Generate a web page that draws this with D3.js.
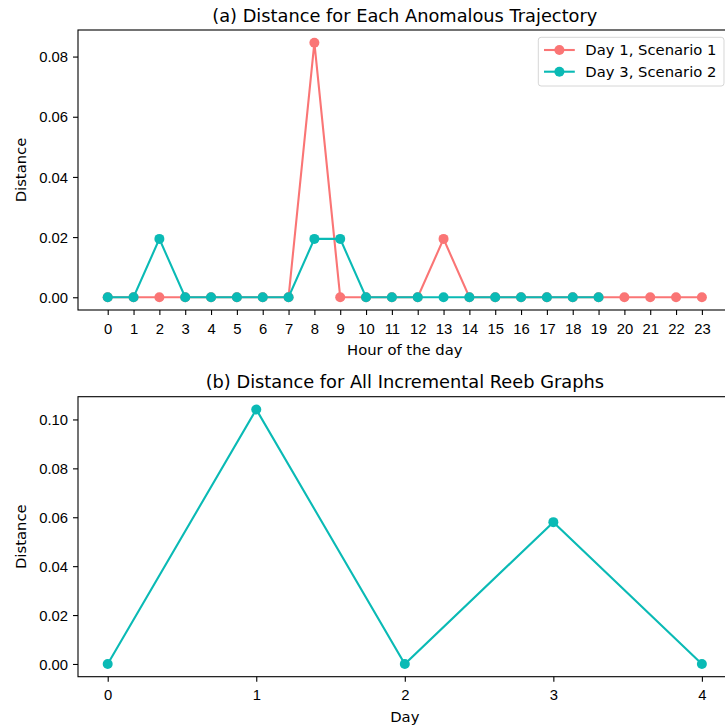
<!DOCTYPE html>
<html>
<head>
<meta charset="utf-8">
<script src="https://cdn.jsdelivr.net/npm/d3@7"></script>
<style>
  body { margin: 0; background: #fff; }
  svg { display: block; font-family: "DejaVu Sans", sans-serif; }
</style>
</head>
<body>
<div id="chart"></div>
<script>
// 数据
const hours = [0, 1, 2, 3, 4, 5, 6, 7, 8, 9, 10, 11, 12, 13, 14, 15, 16, 17, 18, 19, 20, 21, 22, 23];
const day1Scenario1 = [0, 0, 0, 0, 0, 0, 0, 0, 0.0846, 0, 0, 0, 0, 0.0194, 0, 0, 0, 0, 0, 0, 0, 0, 0, 0];
const day3Scenario2 = [0, 0, 0.0194, 0, 0, 0, 0, 0, 0.0194, 0.0194, 0, 0, 0, 0, 0, 0, 0, 0, 0, 0];
const days = [0, 1, 2, 3, 4];
const reebDist = [0, 0.1041, 0, 0.058, 0];
const ticksA = [0, 0.02, 0.04, 0.06, 0.08];
const ticksB = [0, 0.02, 0.04, 0.06, 0.08, 0.10];
const seriesNames = ['Day 1, Scenario 1', 'Day 3, Scenario 2'];

const red = '#fa7575', teal = '#0abab5';
const W = 725, H = 728;
const fs = 14.8;          // 刻度字号
const left = 78, right = 731.6;   // 右边界超出画面（原图被裁切）

const svg = d3.select('#chart').append('svg')
  .attr('width', W)
  .attr('height', H);

// 5% 边距，与 matplotlib 一致
function pad(lo, hi) {
  const m = (hi - lo) * 0.05;
  return [lo - m, hi + m];
}

function drawPanel(cfg) {
  const x = d3.scaleLinear().domain(pad(d3.min(cfg.xs), d3.max(cfg.xs))).range([left, right]);
  const yMax = d3.max(cfg.series, s => d3.max(s.values));
  const y = d3.scaleLinear().domain(pad(0, yMax)).range([cfg.bottom, cfg.top]);

  // x 轴
  const gx = svg.append('g')
    .attr('transform', `translate(0,${cfg.bottom})`)
    .call(d3.axisBottom(x).tickValues(cfg.xs).tickFormat(d3.format('d')).tickSize(5).tickPadding(5).tickSizeOuter(0));
  gx.selectAll('text').attr('dy', '0.93em').style('font-size', fs + 'px').attr('fill', '#000');

  // y 轴
  const gy = svg.append('g')
    .attr('transform', `translate(${left},0)`)
    .call(d3.axisLeft(y).tickValues(cfg.yTicks).tickFormat(d3.format('.2f')).tickSize(5).tickPadding(5).tickSizeOuter(0));
  gy.selectAll('text').attr('dy', '0.35em').style('font-size', fs + 'px').attr('fill', '#000');

  svg.selectAll('.domain').remove();
  svg.selectAll('.tick line').attr('stroke', '#000').attr('stroke-width', 1.1);

  // 边框
  svg.append('rect')
    .attr('x', left)
    .attr('y', cfg.top)
    .attr('width', right - left)
    .attr('height', cfg.bottom - cfg.top)
    .attr('fill', 'none')
    .attr('stroke', '#000')
    .attr('stroke-width', 1.1);

  // 折线 + 圆点
  const line = d3.line().x((d, i) => x(cfg.xs[i])).y(d => y(d));
  cfg.series.forEach(s => {
    svg.append('path')
      .datum(s.values)
      .attr('d', line)
      .attr('fill', 'none')
      .attr('stroke', s.color)
      .attr('stroke-width', 2.1);
    svg.append('g').selectAll('circle')
      .data(s.values)
      .enter()
      .append('circle')
      .attr('cx', (d, i) => x(cfg.xs[i]))
      .attr('cy', d => y(d))
      .attr('r', 5)
      .attr('fill', s.color);
  });

  // 标题
  svg.append('text')
    .attr('x', (left + right) / 2)
    .attr('y', cfg.top - 8.5)
    .attr('text-anchor', 'middle')
    .style('font-size', '17.8px')
    .text(cfg.title);

  // 轴标题
  svg.append('text')
    .attr('x', (left + right) / 2)
    .attr('y', cfg.bottom + 45)
    .attr('text-anchor', 'middle')
    .style('font-size', fs + 'px')
    .text(cfg.xLabel);

  svg.append('text')
    .attr('transform', `translate(26,${(cfg.top + cfg.bottom) / 2}) rotate(-90)`)
    .attr('text-anchor', 'middle')
    .style('font-size', fs + 'px')
    .text('Distance');
}

drawPanel({
  xs: hours,
  series: [{ values: day1Scenario1, color: red }, { values: day3Scenario2, color: teal }],
  yTicks: ticksA,
  top: 30, bottom: 310,
  title: '(a) Distance for Each Anomalous Trajectory',
  xLabel: 'Hour of the day'
});

drawPanel({
  xs: days,
  series: [{ values: reebDist, color: teal }],
  yTicks: ticksB,
  top: 396.7, bottom: 676.7,
  title: '(b) Distance for All Incremental Reeb Graphs',
  xLabel: 'Day'
});

// 图例
const lg = svg.append('g').attr('transform', 'translate(538.3,37.3)');
lg.append('rect')
  .attr('width', 185.7)
  .attr('height', 48.7)
  .attr('rx', 2.8)
  .attr('fill', 'rgba(255,255,255,0.8)')
  .attr('stroke', '#d6d6d6')
  .attr('stroke-width', 1);

[red, teal].forEach((c, i) => {
  const cy = 12.7 + i * 21.7;
  lg.append('line')
    .attr('x1', 5.7).attr('x2', 36.5)
    .attr('y1', cy).attr('y2', cy)
    .attr('stroke', c)
    .attr('stroke-width', 2.1);
  lg.append('circle')
    .attr('cx', 21.1)
    .attr('cy', cy)
    .attr('r', 5)
    .attr('fill', c);
  lg.append('text')
    .attr('x', 47)
    .attr('y', cy)
    .attr('dy', '0.35em')
    .style('font-size', fs + 'px')
    .text(seriesNames[i]);
});
</script>
</body>
</html>
